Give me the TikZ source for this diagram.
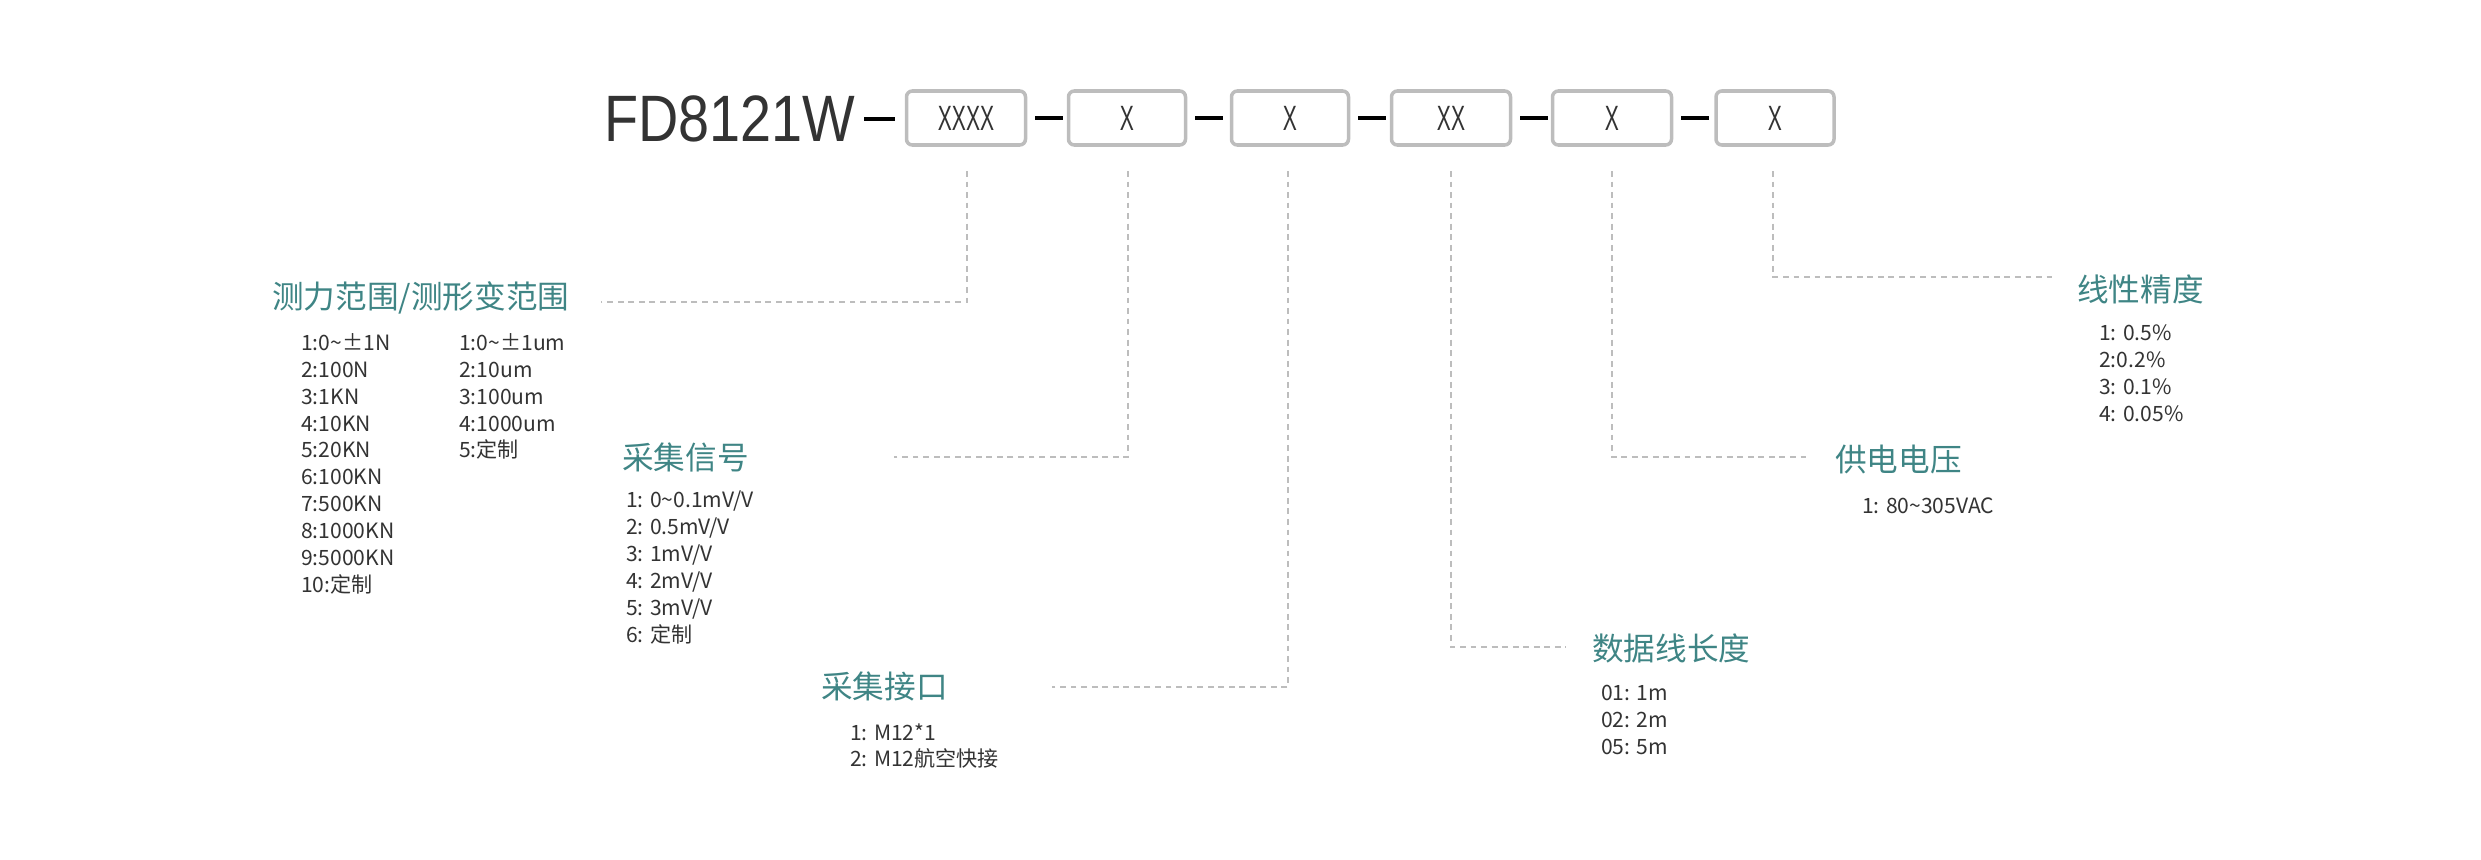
\documentclass[tikz,border=0pt]{standalone}
\usepackage{fontspec}
\setmainfont{Noto Sans CJK SC}
\newfontfamily\titlefont{Liberation Sans}
\definecolor{teal2}{HTML}{3F8585}
\definecolor{txtgray}{HTML}{333333}
\definecolor{lngray}{HTML}{BDBDBD}
\tikzset{
 codebox/.style={draw=lngray,line width=3pt,rounded corners=5pt,minimum height=54*0.03cm,inner sep=0pt,font=\titlefont\fontsize{30}{30}\selectfont,text=txtgray},
 lead/.style={draw=lngray,line width=2.5pt,dash pattern=on 5pt off 4pt},
 sep/.style={draw=black,line width=3.5pt},
 head/.style={anchor=west,text=teal2,font=\fontsize{27}{30}\selectfont,inner sep=0pt},
 lst/.style={anchor=north west,text=txtgray,align=left,font=\fontsize{18}{23}\selectfont,inner sep=0pt},
}
\begin{document}
\begin{tikzpicture}[x=0.03cm,y=-0.03cm]
\useasboundingbox (0,0) rectangle (2481,859);
\node[anchor=west,inner sep=0pt,font=\titlefont\fontsize{56}{56}\selectfont,xscale=0.85,text=txtgray] (title) at (604,119) {FD8121W};
\draw[sep] (864,119) -- (895,119);
\node[codebox,minimum width=119*0.03cm] (b1) at (966,118) {\scalebox{0.6}[1]{XXXX}};
\node[codebox,minimum width=117*0.03cm] (b2) at (1127,118) {\scalebox{0.6}[1]{X}};
\node[codebox,minimum width=117*0.03cm] (b3) at (1290,118) {\scalebox{0.6}[1]{X}};
\node[codebox,minimum width=119*0.03cm] (b4) at (1451,118) {\scalebox{0.6}[1]{XX}};
\node[codebox,minimum width=119*0.03cm] (b5) at (1612,118) {\scalebox{0.6}[1]{X}};
\node[codebox,minimum width=118*0.03cm] (b6) at (1775,118) {\scalebox{0.6}[1]{X}};
\draw[sep] (b1.east)++(8,0) -- ++(28,0);
\draw[sep] (b2.east)++(8,0) -- ++(28,0);
\draw[sep] (b3.east)++(8,0) -- ++(28,0);
\draw[sep] (b4.east)++(8,0) -- ++(28,0);
\draw[sep] (b5.east)++(8,0) -- ++(28,0);
% headings
\node[head] (h1) at (272,298) {测力范围/测形变范围};
\node[head] (h2) at (622,457) {采集信号};
\node[head] (h3) at (821,686) {采集接口};
\node[head] (h4) at (1592,648) {数据线长度};
\node[head] (h5) at (1835,460) {供电电压};
\node[head] (h6) at (2077,289) {线性精度};
% leaders
\coordinate (t1) at (967,171); \coordinate (t2) at (1128,171); \coordinate (t3) at (1288,171);
\coordinate (t4) at (1451,171); \coordinate (t5) at (1612,171); \coordinate (t6) at (1773,171);
\coordinate (e1) at (601,302); \coordinate (e2) at (894,457); \coordinate (e3) at (1052,687);
\coordinate (e4) at (1566,647); \coordinate (e5) at (1811,457); \coordinate (e6) at (2057,277);
\draw[lead] (t1) |- (e1);
\draw[lead] (t2) |- (e2);
\draw[lead] (t3) |- (e3);
\draw[lead] (t4) |- (e4);
\draw[lead] (t5) |- (e5);
\draw[lead] (t6) |- (e6);
% lists
\node[lst] (l1) at (301,333) {1:0\textasciitilde ±1N\\2:100N\\3:1KN\\4:10KN\\5:20KN\\6:100KN\\7:500KN\\8:1000KN\\9:5000KN\\10:定制};
\node[lst] (l1b) at (459,333) {1:0\textasciitilde ±1um\\2:10um\\3:100um\\4:1000um\\5:定制};
\node[lst] (l2) at (626,491) {1: 0\textasciitilde 0.1mV/V\\2: 0.5mV/V\\3: 1mV/V\\4: 2mV/V\\5: 3mV/V\\6: 定制};
\node[lst] (l3) at (850,723) {1: M12*1\\2: M12航空快接};
\node[lst] (l4) at (1601,685) {01: 1m\\02: 2m\\05: 5m};
\node[lst] (l5) at (1862,498) {1: 80\textasciitilde 305VAC};
\node[lst] (l6) at (2099,325) {1: 0.5\%\\2:0.2\%\\3: 0.1\%\\4: 0.05\%};
\end{tikzpicture}
\end{document}
